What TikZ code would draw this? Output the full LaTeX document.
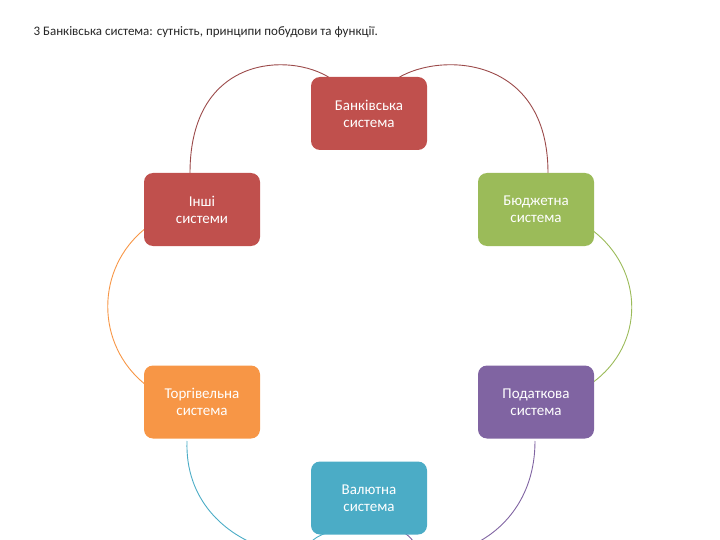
\documentclass[tikz,border=0pt]{standalone}
\usepackage{fontspec}
\setmainfont{Carlito}
\definecolor{cred}{HTML}{C0504D}
\definecolor{cgreen}{HTML}{9BBB59}
\definecolor{corange}{HTML}{F79646}
\definecolor{cpurple}{HTML}{8064A2}
\definecolor{cblue}{HTML}{4BACC6}
\definecolor{arcred}{HTML}{9B4A4A}
\begin{document}
\begin{tikzpicture}[x=1pt,y=-1pt,
  box/.style={fill=#1,rounded corners=9pt,minimum width=116pt,minimum height=73pt,text=white,font=\fontsize{15}{17}\selectfont,align=center,inner sep=2pt},
  arc/.style={draw=#1,line width=0.9pt}]
\useasboundingbox (0,0) rectangle (720,540);
\clip (0,0) rectangle (720,540);
\node[anchor=west,font=\fontsize{13}{15}\selectfont,text=black!85] (title) at (30,32) {3 Банківська система: сутність, принципи побудови та функції.};
\draw[arc=arcred] (330,78) .. controls (290,52) and (190,55) .. (190,173);
\draw[arc=arcred] (398,78) .. controls (440,52) and (548,55) .. (548,173);
\draw[arc=corange] (146,228) .. controls (95,268) and (95,345) .. (146,385);
\draw[arc=cgreen] (592,230) .. controls (645,270) and (645,345) .. (592,383);
\draw[arc=cblue] (187,441) .. controls (185,500) and (225,535) .. (265,548);
\draw[arc=cpurple] (535,441) .. controls (535,500) and (500,535) .. (465,548);
\draw[arc=cblue] (313,540) .. controls (318,536) and (325,533) .. (332,531);
\draw[arc=cpurple] (402,532) .. controls (407,534) and (410,537) .. (413,541);
\node[box=cred] (bank) at (369,113.5) {Банківська\\система};
\node[box=cred] (other) at (202,209.5) {Інші\\системи};
\node[box=cgreen] (budget) at (536,209.5) {Бюджетна\\система};
\node[box=corange] (trade) at (202,402) {Торгівельна\\система};
\node[box=cpurple] (tax) at (536,402) {Податкова\\система};
\node[box=cblue] (curr) at (369,498) {Валютна\\система};
\end{tikzpicture}
\end{document}
